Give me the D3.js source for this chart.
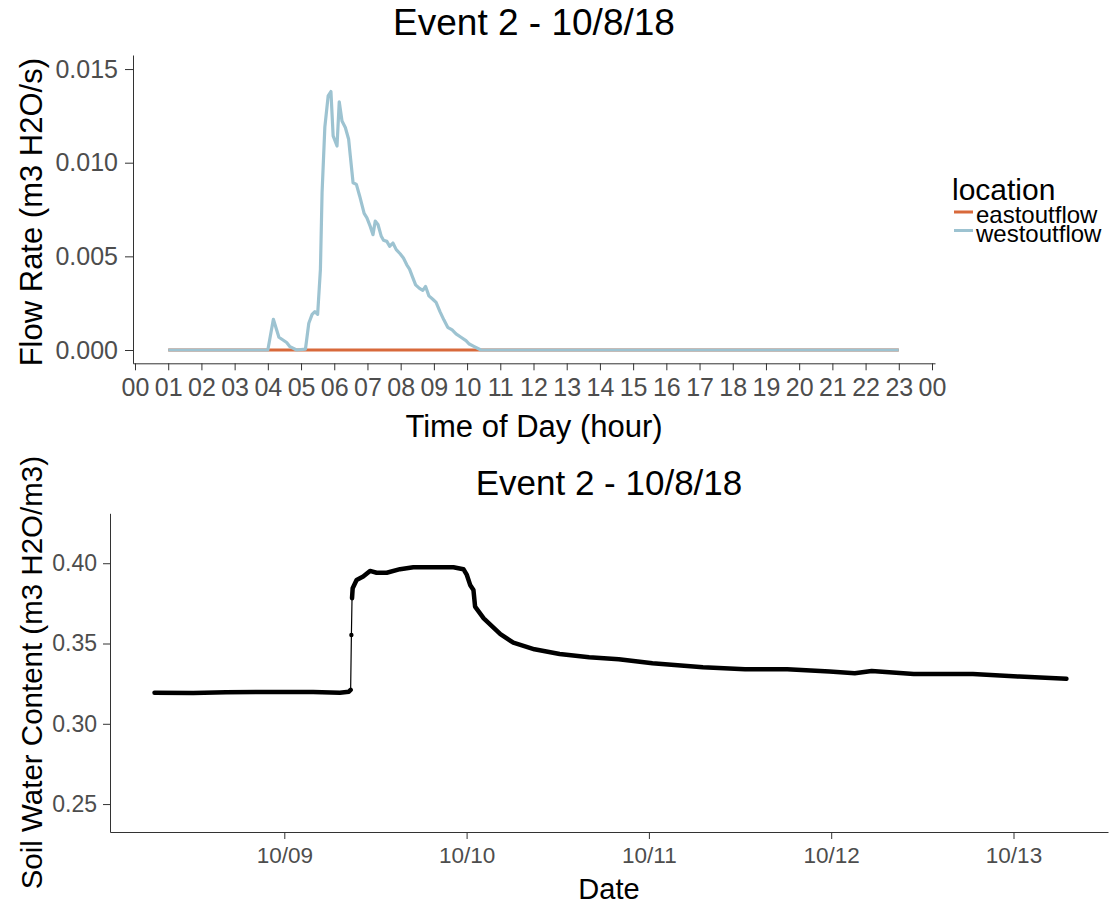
<!DOCTYPE html>
<html>
<head>
<meta charset="utf-8">
<script src="https://cdn.jsdelivr.net/npm/d3@7"></script>
<style>
  body { margin: 0; background: #fff; }
  svg { font-family: "Liberation Sans", Arial, sans-serif; }
  .axis path, .axis line { stroke: #333; }
  .axis text { fill: #4d4d4d; }
</style>
</head>
<body>
<div id="chart"></div>
<script>
// flow data, Event 2 (10/8/18)
var flowTimes = ["01:00", "04:00", "04:10", "04:20", "04:34", "04:40", "04:52", "05:08", "05:14", "05:20",
  "05:25", "05:30", "05:35", "05:38", "05:43", "05:49", "05:54", "05:58", "06:05", "06:09",
  "06:14", "06:20", "06:26", "06:29", "06:34", "06:40", "06:46", "06:54", "06:59", "07:05",
  "07:10", "07:14", "07:19", "07:25", "07:29", "07:35", "07:40", "07:46", "07:52", "07:59",
  "08:05", "08:11", "08:16", "08:21", "08:27", "08:34", "08:40", "08:45", "08:51", "08:58",
  "09:04", "09:11", "09:18", "09:25", "09:33", "09:40", "09:49", "09:58", "10:04", "10:13",
  "10:25", "23:00"];
var westFlow = [0, 0, 0.00164, 0.00068, 0.0004, 0.00018, 0, 0.00005, 0.00143, 0.0019,
  0.00205, 0.0019, 0.0043, 0.0084, 0.0119, 0.01357, 0.0138, 0.01143, 0.01089, 0.01325,
  0.01223, 0.01188, 0.01125, 0.01036, 0.00893, 0.00884, 0.00821, 0.00729, 0.00705, 0.0066,
  0.00616, 0.00688, 0.0067, 0.00607, 0.00586, 0.0058, 0.00554, 0.00571, 0.00536, 0.00514,
  0.00491, 0.00455, 0.00432, 0.00393, 0.00348, 0.00329, 0.00318, 0.00339, 0.00289, 0.00271,
  0.00254, 0.00205, 0.00161, 0.00121, 0.00107, 0.00086, 0.00068, 0.0005, 0.00032, 0.00018,
  0, 0];
var eastTimes = ["01:00", "23:00"];
var eastFlow = [0, 0];
var flowTicks = [0, 0.005, 0.010, 0.015];
var locations = ["eastoutflow", "westoutflow"];
var locColors = ["#d8693b", "#9dc3d1"];

// soil water content
var soilTimes = ["2018-10-08 06:55", "2018-10-08 12:00", "2018-10-08 16:20", "2018-10-09 03:48", "2018-10-09 07:19",
  "2018-10-09 08:30", "2018-10-09 08:44", "2018-10-09 08:50", "2018-10-09 08:55", "2018-10-09 09:00",
  "2018-10-09 09:31", "2018-10-09 10:23", "2018-10-09 11:17", "2018-10-09 12:09", "2018-10-09 13:29",
  "2018-10-09 15:14", "2018-10-09 16:59", "2018-10-09 19:37", "2018-10-09 22:16", "2018-10-09 23:35",
  "2018-10-10 00:02", "2018-10-10 00:28", "2018-10-10 00:54", "2018-10-10 01:07", "2018-10-10 02:15",
  "2018-10-10 04:27", "2018-10-10 06:09", "2018-10-10 08:56", "2018-10-10 12:15", "2018-10-10 16:08",
  "2018-10-10 20:02", "2018-10-11 00:28", "2018-10-11 07:07", "2018-10-11 12:40", "2018-10-11 18:13",
  "2018-10-11 23:47", "2018-10-12 03:06", "2018-10-12 05:20", "2018-10-12 10:52", "2018-10-12 18:39",
  "2018-10-13 00:45", "2018-10-13 06:58"];
var soilValues = [0.3194, 0.3192, 0.3197, 0.3198, 0.3194,
  0.3200, 0.3211, 0.3553, 0.3782, 0.3844,
  0.3896, 0.3917, 0.3952, 0.3941, 0.3941,
  0.3963, 0.3975, 0.3975, 0.3975, 0.3963,
  0.3927, 0.3865, 0.3834, 0.3730, 0.3657,
  0.3558, 0.3505, 0.3464, 0.3435, 0.3414,
  0.3402, 0.3377, 0.3352, 0.3340, 0.3340,
  0.3325, 0.3315, 0.3329, 0.3310, 0.3310,
  0.3294, 0.3280];
var soilTicks = [0.25, 0.30, 0.35, 0.40];

var svgWidth = 1112;
var svgHeight = 909;

var svg = d3.select("#chart")
  .append("svg")
  .attr("width", svgWidth)
  .attr("height", svgHeight);

var parseHM = d3.timeParse("%Y-%m-%d %H:%M");
var dayStr = "2018-10-08 ";

// ---------- top chart ----------
var topBox = { left: 133, right: 935, top: 55, bottom: 363.3 };
var day0 = parseHM(dayStr + "00:00");
var day1 = d3.timeDay.offset(day0, 1);

var xTop = d3.scaleTime()
  .domain([d3.timeSecond.offset(day0, -217), d3.timeSecond.offset(day1, 325)])
  .range([topBox.left, topBox.right]);

var yTop = d3.scaleLinear()
  .domain([-0.00071, 0.01575])
  .range([topBox.bottom, topBox.top]);

svg.append("g")
  .attr("class", "axis")
  .attr("transform", `translate(0, ${topBox.bottom})`)
  .call(d3.axisBottom(xTop)
    .ticks(d3.timeHour.every(1))
    .tickFormat(d3.timeFormat("%H"))
    .tickSize(7).tickPadding(8).tickSizeOuter(0))
  .attr("font-size", 25).attr("font-family", null);

svg.append("g")
  .attr("class", "axis")
  .attr("transform", `translate(${topBox.left}, 0)`)
  .call(d3.axisLeft(yTop)
    .tickValues(flowTicks)
    .tickFormat(d3.format(".3f"))
    .tickSize(8).tickPadding(7).tickSizeOuter(0))
  .attr("font-size", 25).attr("font-family", null);

var lineTop = d3.line()
  .x(d => xTop(d.t))
  .y(d => yTop(d.v));

var series = [
  { name: locations[0], color: locColors[0], data: eastTimes.map((t, i) => ({ t: parseHM(dayStr + t), v: eastFlow[i] })) },
  { name: locations[1], color: locColors[1], data: flowTimes.map((t, i) => ({ t: parseHM(dayStr + t), v: westFlow[i] })) }
];

svg.selectAll(".flow")
  .data(series)
  .enter()
  .append("path")
  .attr("class", "flow")
  .attr("d", d => lineTop(d.data))
  .attr("fill", "none")
  .attr("stroke", d => d.color)
  .attr("stroke-width", 3.2)
  .attr("stroke-linejoin", "round");

svg.append("text")
  .attr("x", (topBox.left + topBox.right) / 2)
  .attr("y", 35)
  .attr("text-anchor", "middle")
  .attr("font-size", 37)
  .text("Event 2 - 10/8/18");

svg.append("text")
  .attr("x", (topBox.left + topBox.right) / 2)
  .attr("y", 437)
  .attr("text-anchor", "middle")
  .attr("font-size", 31)
  .text("Time of Day (hour)");

svg.append("text")
  .attr("transform", `translate(42, ${(topBox.top + topBox.bottom) / 2 + 3}) rotate(-90)`)
  .attr("text-anchor", "middle")
  .attr("font-size", 31)
  .text("Flow Rate (m3 H2O/s)");

// legend
var legend = svg.append("g");
legend.append("text")
  .attr("x", 952)
  .attr("y", 200)
  .attr("font-size", 30)
  .text("location");

var keys = legend.selectAll(".key")
  .data(series)
  .enter()
  .append("g")
  .attr("transform", (d, i) => `translate(0, ${i * 18.5})`);

keys.append("line")
  .attr("x1", 954).attr("x2", 973)
  .attr("y1", 212).attr("y2", 212)
  .attr("stroke", d => d.color)
  .attr("stroke-width", 3);

keys.append("text")
  .attr("x", 976)
  .attr("y", 223)
  .attr("font-size", 24)
  .text(d => d.name);

// ---------- bottom chart ----------
var bot = { left: 110, right: 1108, top: 513.3, bottom: 832 };
var dayStart = parseHM("2018-10-09 00:00");
var pxPerDay = 182.3;
var msDay = 864e5;

var xBot = d3.scaleTime()
  .domain([new Date(+dayStart - (284.3 - bot.left) / pxPerDay * msDay),
           new Date(+dayStart + (bot.right - 284.3) / pxPerDay * msDay)])
  .range([bot.left, bot.right]);

var yBot = d3.scaleLinear()
  .domain([0.2326, 0.4311])
  .range([bot.bottom, bot.top]);

svg.append("g")
  .attr("class", "axis")
  .attr("transform", `translate(0, ${bot.bottom})`)
  .call(d3.axisBottom(xBot)
    .ticks(d3.timeDay.every(1))
    .tickFormat(d3.timeFormat("%m/%d"))
    .tickSize(7).tickPadding(8).tickSizeOuter(0))
  .attr("font-size", 22.5).attr("font-family", null);

svg.append("g")
  .attr("class", "axis")
  .attr("transform", `translate(${bot.left}, 0)`)
  .call(d3.axisLeft(yBot)
    .tickValues(soilTicks)
    .tickFormat(d3.format(".2f"))
    .tickSize(7).tickPadding(6).tickSizeOuter(0))
  .attr("font-size", 23).attr("font-family", null);

var soil = soilTimes.map((t, i) => ({ t: parseHM(t), v: soilValues[i] }));

// thin connecting line through every reading
var lineBot = d3.line()
  .x(d => xBot(d.t))
  .y(d => yBot(d.v));

svg.append("path")
  .attr("d", lineBot(soil))
  .attr("fill", "none")
  .attr("stroke", "#000")
  .attr("stroke-width", 1.2);

// dense readings look thick; split where the sensor jumped
var runs = [[soil[0]]];
for (var i = 1; i < soil.length; i++) {
  if (Math.abs(soil[i].v - soil[i - 1].v) > 0.015) runs.push([]);
  runs[runs.length - 1].push(soil[i]);
}

svg.selectAll(".soilrun")
  .data(runs.filter(r => r.length > 1))
  .enter()
  .append("path")
  .attr("class", "soilrun")
  .attr("d", d => lineBot(d))
  .attr("fill", "none")
  .attr("stroke", "#000")
  .attr("stroke-width", 4.5)
  .attr("stroke-linecap", "round")
  .attr("stroke-linejoin", "round");

svg.selectAll(".soildot")
  .data(runs.filter(r => r.length === 1).map(r => r[0]))
  .enter()
  .append("circle")
  .attr("cx", d => xBot(d.t))
  .attr("cy", d => yBot(d.v))
  .attr("r", 2.2)
  .attr("fill", "#000");

svg.append("text")
  .attr("x", (bot.left + bot.right) / 2)
  .attr("y", 495)
  .attr("text-anchor", "middle")
  .attr("font-size", 35)
  .text("Event 2 - 10/8/18");

svg.append("text")
  .attr("x", (bot.left + bot.right) / 2)
  .attr("y", 899)
  .attr("text-anchor", "middle")
  .attr("font-size", 29)
  .text("Date");

svg.append("text")
  .attr("transform", `translate(42, ${(bot.top + bot.bottom) / 2}) rotate(-90)`)
  .attr("text-anchor", "middle")
  .attr("font-size", 29.5)
  .text("Soil Water Content (m3 H2O/m3)");
</script>
</body>
</html>
